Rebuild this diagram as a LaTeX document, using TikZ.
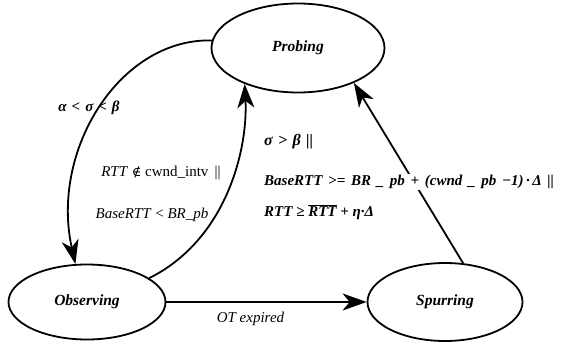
\documentclass[tikz,border=0pt]{standalone}
\usepackage{fontspec}
\setmainfont{Liberation Serif}
\newfontfamily\dejavserif{DejaVu Serif}
\usetikzlibrary{shapes.geometric,arrows.meta}
\newcommand\lblgap{\hspace{0.38em}}
\begin{document}
\begin{tikzpicture}[x=1pt,y=-1pt,
  font=\fontsize{15}{18}\selectfont,
  state/.style={ellipse, draw, line width=1.8pt, inner sep=0pt,
    font=\fontsize{15.5}{18}\selectfont\bfseries\itshape},
  arr/.style={line width=1.8pt, -{Stealth[length=24pt,width=17pt,inset=7pt]}},
  lbl/.style={inner sep=1pt}]
\useasboundingbox (0,0) rectangle (567,345);
\node[state, minimum width=173pt, minimum height=89pt] (P) at (298,48) {Probing};
\node[state, minimum width=157pt, minimum height=75pt] (O) at (87,302) {Observing};
\node[state, minimum width=155pt, minimum height=78pt] (S) at (445,302) {Spurring};

\draw[arr] (P.175) .. controls (120,38) and (50,150) .. (O.107);
\draw[arr] (O.21) .. controls (226,240) and (248,150) .. (P.214);
\draw[arr] (S.65) -- (P.-32);
\draw[arr] (O.east) -- (S.west) node[lbl, pos=0.42, below=8pt, font=\fontsize{15}{18}\selectfont\itshape] (ot) {OT expired};

\node[lbl] (l1) at (89,108) {\bfseries\itshape α\,\,<\,\,σ\,\,<\,\,β};
\node[lbl] (l2) at (161,173) {\textit{RTT} {\dejavserif\fontsize{13}{15}\selectfont ∉} cwnd\_intv \,||};
\node[lbl] (l3) at (152,215) {\textit{BaseRTT} < \textit{BR\_pb}};
\node[lbl, anchor=west] (l4) at (263,142) {\fontsize{16}{18}\selectfont\bfseries\itshape σ\,\,>\,\,β\,\,||};
\node[lbl, anchor=west, fill=white] (l5) at (263,182) {\bfseries\itshape BaseRTT\lblgap>=\lblgap BR\lblgap\_\lblgap pb\lblgap+\lblgap(cwnd\lblgap\_\lblgap pb\lblgap−1)\,·\,Δ\lblgap||};
\node[lbl, anchor=west] (l6) at (263,212) {\bfseries\itshape RTT ≥ $\overline{\hbox{\bfseries\itshape RTT}}$ + η·Δ};
\end{tikzpicture}
\end{document}
